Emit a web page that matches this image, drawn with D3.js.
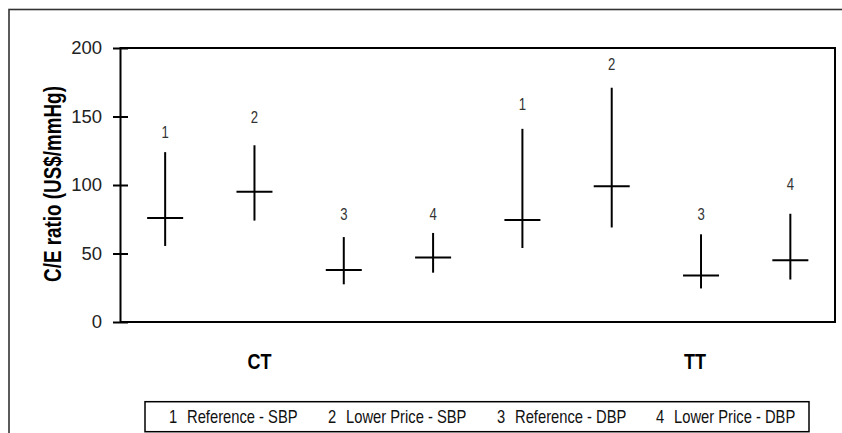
<!DOCTYPE html>
<html lang="en">
<head>
  <meta charset="UTF-8">
  <title>C/E ratio</title>
  <script src="https://d3js.org/d3.v7.min.js"></script>
  <style>
    body { margin: 0; padding: 0; background: white; }
    svg { display: block; }
    text { font-family: 'Liberation Sans', Arial, sans-serif; }
  </style>
</head>
<body>
  <div id="chart"></div>
  <script>
    // one entry per cross, left to right
    const items = ["CT1", "CT2", "CT3", "CT4", "TT1", "TT2", "TT3", "TT4"];
    const itemNum = ["1", "2", "3", "4", "1", "2", "3", "4"];
    const midVal = [76, 95, 38, 47, 74.5, 99, 34, 45];
    const highVal = [124, 129, 62, 65, 141, 171, 64, 79];
    const lowVal = [55.5, 74, 27.5, 36, 54, 69, 24.5, 31];
    const numAt = [138.3, 149.6, 79, 79, 158.8, 188, 79, 100.7];
    const groups = ["CT", "TT"];
    const groupAt = ["CT2", "TT3"];
    const yTicks = [0, 50, 100, 150, 200];
    const legendItems = ["Reference - SBP", "Lower Price - SBP", "Reference - DBP", "Lower Price - DBP"];

    const W = 842, H = 433;
    const mLeft = 120.5, mRight = 835, mTop = 48, mBottom = 322;
    const squeeze = 0.82; // the original uses a narrow face

    const svg = d3.select("#chart").append("svg").attr("width", W).attr("height", H);

    // narrow text: regular face squeezed horizontally
    function narrow(x0, y0, str, size, extra = "") {
      return svg.append("text")
        .attr("transform", `translate(${x0},${y0}) ${extra} scale(${squeeze},1)`)
        .attr("font-size", size).text(str);
    }

    // outer frame (runs off the right and bottom)
    svg.append("rect").attr("x", 9).attr("y", 9.5).attr("width", 900).attr("height", 500)
      .attr("fill", "none").attr("stroke", "#333").attr("stroke-width", 1.6);

    const x = d3.scaleBand().domain(items).range([mLeft, mRight]);
    const y = d3.scaleLinear().domain([0, 200]).range([mBottom, mTop]);

    const yAxis = svg.append("g").attr("transform", `translate(${mLeft},0)`)
      .call(d3.axisLeft(y).tickValues(yTicks).tickSize(7.5).tickPadding(11));
    yAxis.select(".domain").remove();
    yAxis.selectAll(".tick line").attr("x1", 7.5).attr("stroke", "#000").attr("stroke-width", 2);
    yAxis.selectAll(".tick text").attr("font-family", "'Liberation Sans', Arial, sans-serif")
      .attr("font-size", 18.5).attr("fill", "#222");

    svg.append("rect").attr("x", mLeft).attr("y", mTop).attr("width", mRight - mLeft).attr("height", mBottom - mTop)
      .attr("fill", "none").attr("stroke", "#000").attr("stroke-width", 2);

    narrow(61, 184, "C/E ratio (US$/mmHg)", 23, "rotate(-90)")
      .attr("text-anchor", "middle").attr("font-weight", "bold");

    const cx = d => x(d) + x.bandwidth() / 2;
    const cross = svg.append("g").attr("stroke", "#000").attr("stroke-width", 2);
    items.forEach((d, i) => {
      cross.append("line").attr("x1", cx(d)).attr("x2", cx(d)).attr("y1", y(lowVal[i])).attr("y2", y(highVal[i]));
      cross.append("line").attr("x1", cx(d) - 18).attr("x2", cx(d) + 18).attr("y1", y(midVal[i])).attr("y2", y(midVal[i]));
      narrow(cx(d), y(numAt[i]), itemNum[i], 16).attr("dy", "0.36em")
        .attr("text-anchor", "middle").attr("fill", "#333");
    });

    groups.forEach((g, i) => {
      narrow(cx(groupAt[i]) + (i === 0 ? 5 : -6), 369, g, 22)
        .attr("text-anchor", "middle").attr("font-weight", "bold");
    });

    // legend
    svg.append("rect").attr("x", 145).attr("y", 401.7).attr("width", 664).attr("height", 30)
      .attr("fill", "none").attr("stroke", "#000").attr("stroke-width", 1.5);
    const legX = [169, 328, 497, 656];
    legendItems.forEach((t, i) => {
      narrow(legX[i], 423, i + 1, 18).attr("fill", "#111");
      narrow(legX[i] + 18, 423, t, 18).attr("fill", "#111");
    });
  </script>
</body>
</html>
